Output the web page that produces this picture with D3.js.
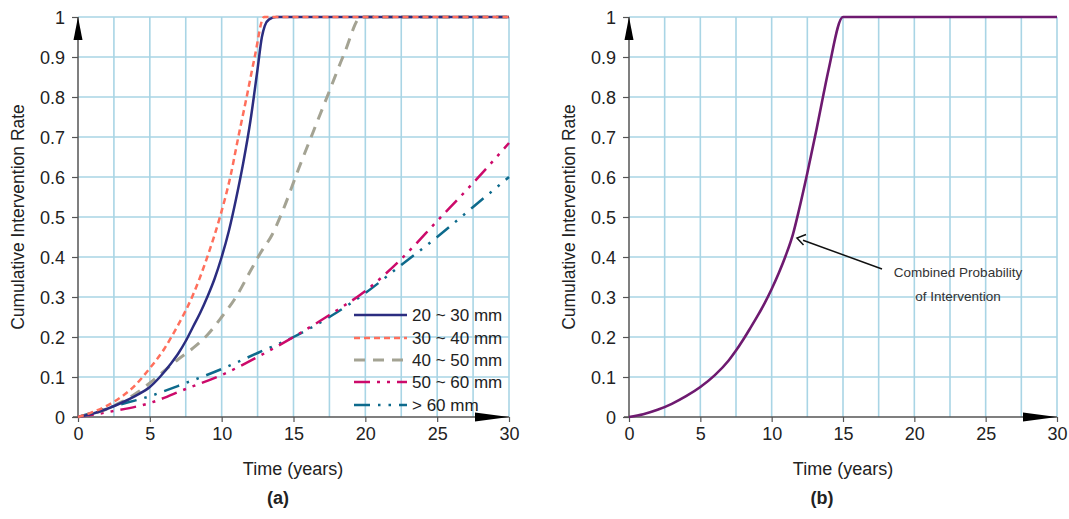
<!DOCTYPE html>
<html><head><meta charset="utf-8">
<script src="https://cdn.jsdelivr.net/npm/d3@7"></script>
<style>body{margin:0;background:#fff}svg{display:block}text{font-family:Arial,"Liberation Sans",sans-serif}</style>
</head><body>
<svg id="c" width="1069" height="519"></svg>
<script>
const xTicks = [0,5,10,15,20,25,30];
const yTicks = [0,0.1,0.2,0.3,0.4,0.5,0.6,0.7,0.8,0.9,1];
const seriesNames = ["20 ~ 30 mm","30 ~ 40 mm","40 ~ 50 mm","50 ~ 60 mm","> 60 mm"];
const s20_30 = [[0,0],[1,0.008],[2,0.02],[3,0.035],[4,0.053],[5,0.075],[5.7,0.1],[6.5,0.135],[7,0.16],[7.5,0.19],[8,0.225],[8.5,0.26],[9,0.3],[9.5,0.345],[10,0.4],[10.5,0.465],[11,0.545],[11.5,0.635],[12,0.74],[12.5,0.87],[12.8,0.95],[13,0.978],[13.3,0.994],[13.8,1],[30,1]];
const s30_40 = [[0,0],[1,0.012],[2,0.028],[3,0.05],[4,0.08],[4.5,0.1],[5,0.122],[6,0.17],[6.5,0.2],[7,0.232],[8,0.305],[9,0.4],[9.88,0.5],[10.6,0.6],[11.16,0.7],[11.74,0.8],[12.3,0.9],[12.95,1],[30,1]];
const s40_50 = [[0,0],[2,0.02],[3,0.037],[4,0.058],[5,0.085],[5.5,0.1],[6,0.115],[7,0.145],[8,0.172],[9,0.205],[10,0.25],[11,0.3],[12,0.365],[12.7,0.41],[13.5,0.455],[14.3,0.52],[15.35,0.62],[16.45,0.72],[17.5,0.815],[18.55,0.91],[19.7,1],[30,1]];
const s50_60 = [[0,0],[2.5,0.015],[5,0.035],[7.5,0.07],[10,0.105],[12.5,0.15],[15,0.2],[17.5,0.255],[20,0.315],[22.5,0.395],[25,0.49],[27.5,0.585],[30,0.685]];
const s60 = [[0,0],[2.5,0.027],[5,0.052],[7.5,0.085],[10,0.12],[12.5,0.16],[15,0.2],[17.5,0.25],[20,0.31],[22.5,0.38],[25,0.45],[27.5,0.525],[30,0.6]];
const combined = [[0,0],[1,0.007],[2,0.018],[3,0.033],[4,0.052],[5,0.075],[6,0.104],[7,0.142],[7.5,0.166],[8,0.193],[8.5,0.222],[9,0.252],[9.5,0.284],[10,0.32],[10.5,0.36],[11,0.405],[11.5,0.458],[11.93,0.52],[12.5,0.61],[13.15,0.72],[13.65,0.81],[14.0,0.87],[15,1],[30,1]];

const svg = d3.select("#c");
const gridColor = "#a9d5e5";
const styles = [
  {color:"#2b2d80", w:2.5, dash:null},
  {color:"#ff6f5c", w:2.5, dash:"6,4"},
  {color:"#a4a393", w:3, dash:"11,8"},
  {color:"#cc0a6a", w:2.5, dash:"16,7,3,7,3,7"},
  {color:"#0d6a8c", w:2.5, dash:"16,8,2.5,8,2.5,8"}
];

function panel(x0, x1, label, xLabelX, panelLabelX) {
  const x = d3.scaleLinear().domain([0,30]).range([x0,x1]);
  const y = d3.scaleLinear().domain([0,1]).range([417,17]);
  const g = svg.append("g");
  g.append("g").selectAll("line").data(d3.range(2.5,30.01,2.5)).join("line")
    .attr("x1",d=>x(d)).attr("x2",d=>x(d)).attr("y1",y(0)).attr("y2",y(1))
    .attr("stroke",gridColor).attr("stroke-width",1.6);
  g.append("g").selectAll("line").data(yTicks.slice(1)).join("line")
    .attr("x1",x(0)).attr("x2",x(30)).attr("y1",d=>y(d)).attr("y2",d=>y(d))
    .attr("stroke",gridColor).attr("stroke-width",1.6);
  const ya = d3.axisLeft(y).tickValues(yTicks).tickSize(6).tickPadding(7).tickFormat(d=>d3.format("~g")(d));
  const gy = g.append("g").attr("transform",`translate(${x(0)},0)`).call(ya);
  gy.select(".domain").remove();
  gy.selectAll("line").attr("stroke","#555").attr("stroke-width",1.2);
  gy.selectAll("text").attr("font-size",18).attr("fill","#222").attr("dy","0.35em");
  const xa = d3.axisBottom(x).tickValues(xTicks).tickSize(5).tickPadding(5);
  const gx = g.append("g").attr("transform",`translate(0,${y(0)})`).call(xa);
  gx.select(".domain").remove();
  gx.selectAll("line").attr("stroke","#555").attr("stroke-width",1.2);
  gx.selectAll("text").attr("font-size",18).attr("fill","#222");
  g.append("line").attr("x1",x(0)).attr("x2",x(0)).attr("y1",y(0)).attr("y2",y(1)).attr("stroke","#555").attr("stroke-width",1.5);
  g.append("line").attr("x1",x(0)-5).attr("x2",x(30)).attr("y1",y(0)).attr("y2",y(0)).attr("stroke","#555").attr("stroke-width",1.5);
  g.append("path").attr("d",`M${x(0)},${y(1)} L${x(0)-4.5},${y(1)+23} L${x(0)+4.5},${y(1)+23} Z`).attr("fill","#000");
  g.append("path").attr("d",`M${x(30)},${y(0)} L${x(30)-34},${y(0)-4.5} L${x(30)-34},${y(0)+4.5} Z`).attr("fill","#000");
  g.append("text").attr("transform",`translate(${x(0)-54},217) rotate(-90)`).attr("text-anchor","middle")
    .attr("font-size",17.5).attr("fill","#222").text("Cumulative Intervention Rate");
  g.append("text").attr("x",xLabelX).attr("y",475).attr("text-anchor","middle").attr("font-size",18).attr("fill","#222").text("Time (years)");
  g.append("text").attr("x",panelLabelX).attr("y",504).attr("text-anchor","middle").attr("font-size",18).attr("font-weight","bold").attr("fill","#222").text(label);
  return {x,y,g};
}

const A = panel(78, 509, "(a)", 293, 278);
const lineA = d3.line().x(d=>A.x(d[0])).y(d=>A.y(d[1])).curve(d3.curveMonotoneX);
const allS = [s20_30, s30_40, s40_50, s50_60, s60];
[4,3,2,0,1].forEach(i=>{
  const st = styles[i];
  A.g.append("path").datum(allS[i]).attr("d",lineA).attr("fill","none")
    .attr("stroke",st.color).attr("stroke-width",st.w).attr("stroke-dasharray",st.dash)
    .attr("stroke-linejoin","round");
});
const legY = [315,338,360,382,405];
seriesNames.forEach((n,i)=>{
  const st = styles[i];
  A.g.append("line").attr("x1",354).attr("x2",407).attr("y1",legY[i]).attr("y2",legY[i])
    .attr("stroke",st.color).attr("stroke-width",st.w).attr("stroke-dasharray",st.dash);
  A.g.append("text").attr("x",412).attr("y",legY[i]).attr("dy","0.35em").attr("font-size",17).attr("fill","#222").text(n);
});

const B = panel(629, 1057, "(b)", 843, 822);
const lineB = d3.line().x(d=>B.x(d[0])).y(d=>B.y(d[1])).curve(d3.curveMonotoneX);
B.g.append("path").datum(combined).attr("d",lineB).attr("fill","none").attr("stroke","#6e1a70").attr("stroke-width",2.6);
const ax1 = 882, ay1 = 269, ax2 = 797, ay2 = 238;
B.g.append("line").attr("x1",ax1).attr("y1",ay1).attr("x2",ax2+6).attr("y2",ay2+2.2).attr("stroke","#111").attr("stroke-width",1.5);
B.g.append("path").attr("d",`M${ax2+9},${ay2-3.5} L${ax2},${ay2} L${ax2+6.5},${ay2+7}`).attr("fill","none").attr("stroke","#111").attr("stroke-width",1.5);
B.g.append("text").attr("x",958).attr("y",277).attr("text-anchor","middle").attr("font-size",13.5).attr("fill","#333").text("Combined Probability");
B.g.append("text").attr("x",958).attr("y",301).attr("text-anchor","middle").attr("font-size",13.5).attr("fill","#333").text("of Intervention");
</script>
</body></html>
